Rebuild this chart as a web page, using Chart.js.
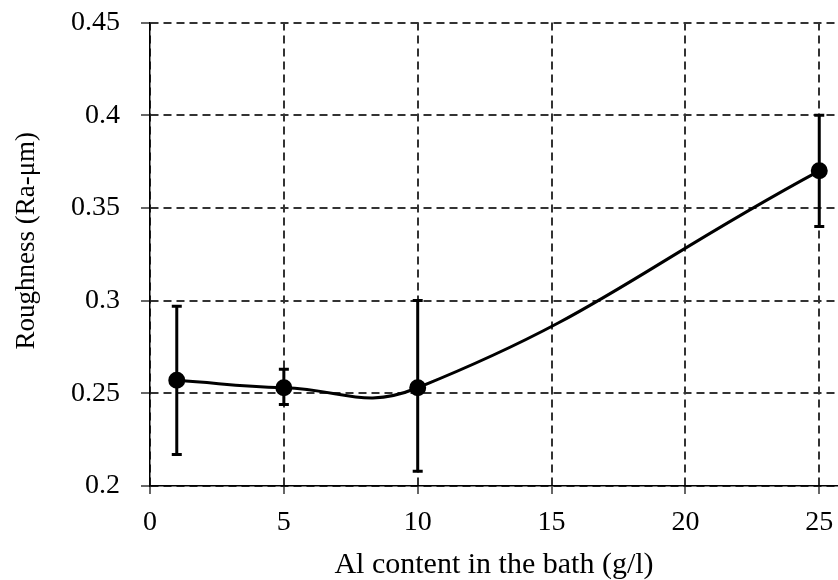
<!DOCTYPE html>
<html>
<head>
<meta charset="utf-8">
<script src="https://cdn.jsdelivr.net/npm/chart.js@4.4.1/dist/chart.umd.min.js"></script>
<style>
  html, body { margin: 0; padding: 0; background: #fff; }
  #wrap { width: 838px; height: 580px; }
</style>
</head>
<body>
<div id="wrap"><canvas id="myChart" width="838" height="580"></canvas></div>
<script>
const alContent = [1, 5, 10, 25];
const roughness = [0.257, 0.253, 0.253, 0.370];
const errHigh = [0.297, 0.263, 0.300, 0.400];
const errLow = [0.217, 0.244, 0.208, 0.340];
const xTicks = [0, 5, 10, 15, 20, 25];

// ==============Error bars==============
const errorBars = {
  id: "errorBars",
  beforeDatasetsDraw(chart) {
    const { ctx, scales } = chart;
    const x = scales.x, y = scales.y;
    ctx.save();
    ctx.strokeStyle = "#000";
    ctx.lineWidth = 3;
    alContent.forEach((v, i) => {
      const px = x.getPixelForValue(v);
      const top = y.getPixelForValue(errHigh[i]);
      const bot = y.getPixelForValue(errLow[i]);
      ctx.beginPath();
      ctx.moveTo(px, top);
      ctx.lineTo(px, bot);
      ctx.moveTo(px - 5, top);
      ctx.lineTo(px + 5, top);
      ctx.moveTo(px - 5, bot);
      ctx.lineTo(px + 5, bot);
      ctx.stroke();
    });
    ctx.restore();
  },
};

const family = "'Liberation Serif', 'Times New Roman', serif";
const tickFont = { family: family, size: 28 };

new Chart(document.getElementById("myChart").getContext("2d"), {
  type: "line",
  data: {
    datasets: [
      {
        data: alContent.map((v, i) => ({ x: v, y: roughness[i] })),
        borderColor: "#000",
        backgroundColor: "#000",
        borderWidth: 3,
        pointRadius: 7,
        pointHoverRadius: 7,
        tension: 0.45,
        clip: false,
      },
    ],
  },
  options: {
    responsive: false,
    animation: false,
    events: [],
    layout: { padding: 0, autoPadding: false },
    plugins: { legend: { display: false }, tooltip: { enabled: false } },
    scales: {
      x: {
        type: "linear",
        min: 0,
        max: 25.7,
        afterBuildTicks: (axis) => {
          axis.ticks = xTicks.map((v) => ({ value: v }));
        },
        afterFit: (axis) => {
          axis.height = 94;
          axis.paddingLeft = 0;
          axis.paddingRight = 0;
        },
        ticks: { color: "#000", font: tickFont, padding: 12, maxRotation: 0 },
        grid: {
          color: "#333",
          lineWidth: 2,
          tickLength: 8,
          tickColor: "#000",
          tickWidth: 1.2,
        },
        border: { display: true, color: "#000", width: 1.5, dash: [8, 5] },
        title: {
          display: true,
          text: "Al content in the bath (g/l)",
          color: "#000",
          font: { family: family, size: 30, lineHeight: 1 },
          padding: { top: 0, bottom: 0 },
        },
      },
      y: {
        min: 0.2,
        max: 0.45,
        afterFit: (axis) => {
          axis.width = 150;
          axis.paddingTop = 22.5;
          axis.paddingBottom = 0;
        },
        ticks: {
          stepSize: 0.05,
          color: "#000",
          font: tickFont,
          padding: 21,
          callback: (v) => String(parseFloat(v.toFixed(2))),
        },
        grid: {
          color: "#333",
          lineWidth: 2,
          tickLength: 9,
          tickColor: "#000",
          tickWidth: 1.2,
        },
        border: { display: true, color: "#000", width: 1.5, dash: [8, 5] },
        title: {
          display: true,
          text: "    Roughness (Ra-μm)",
          color: "#000",
          font: { family: family, size: 27, lineHeight: 1 },
          padding: { top: 13, bottom: 0 },
        },
      },
    },
  },
  plugins: [errorBars],
});
</script>
</body>
</html>
